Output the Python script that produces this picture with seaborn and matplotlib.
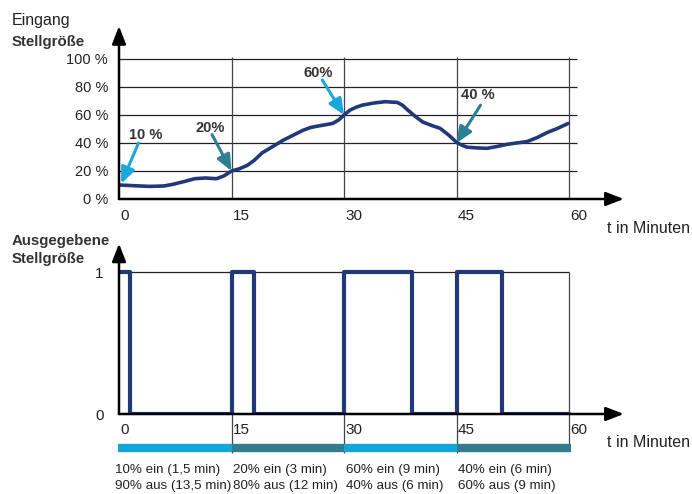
import numpy as np
import pandas as pd
import matplotlib
matplotlib.use("Agg")
import matplotlib.pyplot as plt
import seaborn as sns

# Eingangs-Stellgröße (Prozent) über die Zeit (Minuten)
t_in = [0, 2, 4.1, 6, 7.2, 8.7, 10.1, 11.5, 13, 14, 15, 16, 17.1, 18, 19.1, 20.5,
        21.9, 23.2, 24.5, 25.5, 26.4, 27.5, 28.5, 29.3, 30, 30.8, 31.6, 32.4,
        33.9, 35.5, 37.1, 37.8, 38.4, 39.5, 40.5, 41.7, 42.8, 44, 45, 45.7, 46.4,
        47.7, 49.1, 50.4, 51.7, 53, 54.4, 55.8, 57.1, 58.5, 59.9]
y_in = [10, 9.5, 9, 9.3, 10.5, 12.5, 14.5, 15, 14.5, 16.5, 20, 21.5, 24, 27.5, 33, 37.5,
        42, 45.5, 49, 51, 52, 53, 54, 56.5, 60, 63.5, 65.5, 67,
        68.5, 69.5, 69, 67, 64, 59, 55, 52.5, 50.5, 45.5, 40.5, 38.5, 37,
        36.5, 36.2, 37.5, 39, 40, 41, 44, 47.5, 50.5, 54]

# Ausgegebene Stellgröße (Puls-Pausen-Verhältnis)
t_out = [0, 1.5, 15, 18, 30, 39, 45, 51, 60]
y_out = [1, 0, 1, 0, 1, 0, 1, 0, 0]

periods = [0, 15, 30, 45]
period_colors = ["#14a6d9", "#347d91", "#14a6d9", "#347d91"]
period_text = ["10% ein (1,5 min)\n90% aus (13,5 min)",
               "20% ein (3 min)\n80% aus (12 min)",
               "60% ein (9 min)\n40% aus (6 min)",
               "40% ein (6 min)\n60% aus (9 min)"]

labels = ["10 %", "20%", "60%", "40 %"]
label_pos = [(3.6, 46), (12.1, 51), (26.5, 90), (47.9, 74)]
arrow_tip = [(0.3, 11), (15, 20), (30, 60), (45, 40)]
arrow_tail = [(2.6, 40), (12.4, 46), (27.1, 85), (48.2, 67)]
arrow_colors = ["#1aa7dc", "#2e7f94", "#1aa7dc", "#2e7f94"]

xticks = [0, 15, 30, 45, 60]
yticks = [0, 20, 40, 60, 80, 100]

sns.set_theme(style="white")
plt.rcParams["font.family"] = ["Liberation Sans", "DejaVu Sans"]

navy = "#21397a"
W, H = 692, 494
fig = plt.figure(figsize=(W / 100, H / 100), dpi=100)

ax1 = fig.add_axes([119 / W, (H - 199) / H, 510 / W, 173.6 / H])
ax2 = fig.add_axes([119 / W, 80 / H, 510 / W, 170.4 / H])

for ax in (ax1, ax2):
    ax.set_facecolor("none")
    for s in ax.spines.values():
        s.set_visible(False)
    ax.set_xlim(0, 68)

arrow_kw = dict(arrowstyle="-|>,head_length=0.9,head_width=0.35", color="black",
                lw=1.8, shrinkA=0, shrinkB=0)

# --- oberes Diagramm ---
ax1.set_ylim(0, 124)
ax1.hlines(yticks[1:], 0, 61, color="#222222", lw=0.9)
ax1.vlines(xticks[1:], 0, 101.5, color="#444444", lw=0.9)
sns.lineplot(x=t_in, y=y_in, ax=ax1, color=navy, lw=2.6, zorder=3)
ax1.annotate("", xy=(67.3, 0), xytext=(0, 0), arrowprops=arrow_kw)
ax1.annotate("", xy=(0, 123.5), xytext=(0, 0), arrowprops=arrow_kw)

ax1.set_yticks(yticks)
ax1.set_yticklabels([f"{v} %" for v in yticks], fontsize=10.5, color="#222222")
ax1.set_xticks([])
ax1.tick_params(axis="y", length=0, pad=8)
for x in xticks:
    ax1.text(x + 0.2, -12, str(x), ha="left", va="center", fontsize=11, color="#222222")

for lab, lp, tip, tail, c in zip(labels, label_pos, arrow_tip, arrow_tail, arrow_colors):
    ax1.text(lp[0], lp[1], lab, ha="center", va="center", fontsize=10.5,
             fontweight="bold", color="#333333")
    ax1.annotate("", xy=tip, xytext=tail,
                 arrowprops=dict(arrowstyle="-|>,head_length=0.8,head_width=0.35",
                                 color=c, lw=2.2, shrinkA=0, shrinkB=0), zorder=4)

# --- unteres Diagramm ---
ax2.set_ylim(0, 1.2)
ax2.hlines(1, 0, 60, color="#222222", lw=0.9)
ax2.vlines(xticks[1:4], -0.275, 1, color="#444444", lw=0.9, clip_on=False)
ax2.vlines(60, -0.24, 1, color="#444444", lw=0.9, clip_on=False)
sns.lineplot(x=t_out, y=y_out, ax=ax2, color=navy, lw=3, drawstyle="steps-post",
             zorder=3)
ax2.annotate("", xy=(67.3, 0), xytext=(0, 0), arrowprops=arrow_kw)
ax2.annotate("", xy=(0, 1.2), xytext=(0, 0), arrowprops=arrow_kw)

ax2.set_yticks([0, 1])
ax2.set_yticklabels(["0", "1"], fontsize=11, color="#222222")
ax2.set_xticks([])
ax2.tick_params(axis="y", length=0, pad=11)
for x in xticks:
    ax2.text(x + 0.2, -0.115, str(x), ha="left", va="center", fontsize=11, color="#222222")

for i, (p, c, txt) in enumerate(zip(periods, period_colors, period_text)):
    x0 = p - 0.2 if i == 0 else p
    x1 = p + 15.3 if i == 3 else p + 15
    ax2.hlines(-0.24, x0, x1, color=c, lw=6, clip_on=False)
    ax2.text(p - 0.5 if i == 0 else p + 0.2, -0.45, txt, ha="left", va="center",
             fontsize=9.6, color="#222222", linespacing=1.4)

# Achsentitel
fig.text(12 / W, 1 - 21 / H, "Eingang", fontsize=11.5, va="center", color="#222222")
fig.text(12 / W, 1 - 42 / H, "Stellgröße", fontsize=10.8, fontweight="bold",
         va="center", color="#333333")
fig.text(12 / W, 1 - 241 / H, "Ausgegebene", fontsize=10.8, fontweight="bold",
         va="center", color="#333333")
fig.text(12 / W, 1 - 259 / H, "Stellgröße", fontsize=10.8, fontweight="bold",
         va="center", color="#333333")
fig.text(607 / W, 1 - 228 / H, "t in Minuten", fontsize=11.5, va="center", color="#222222")
fig.text(607 / W, 1 - 442 / H, "t in Minuten", fontsize=11.5, va="center", color="#222222")

fig.savefig("out.png", dpi=100)
